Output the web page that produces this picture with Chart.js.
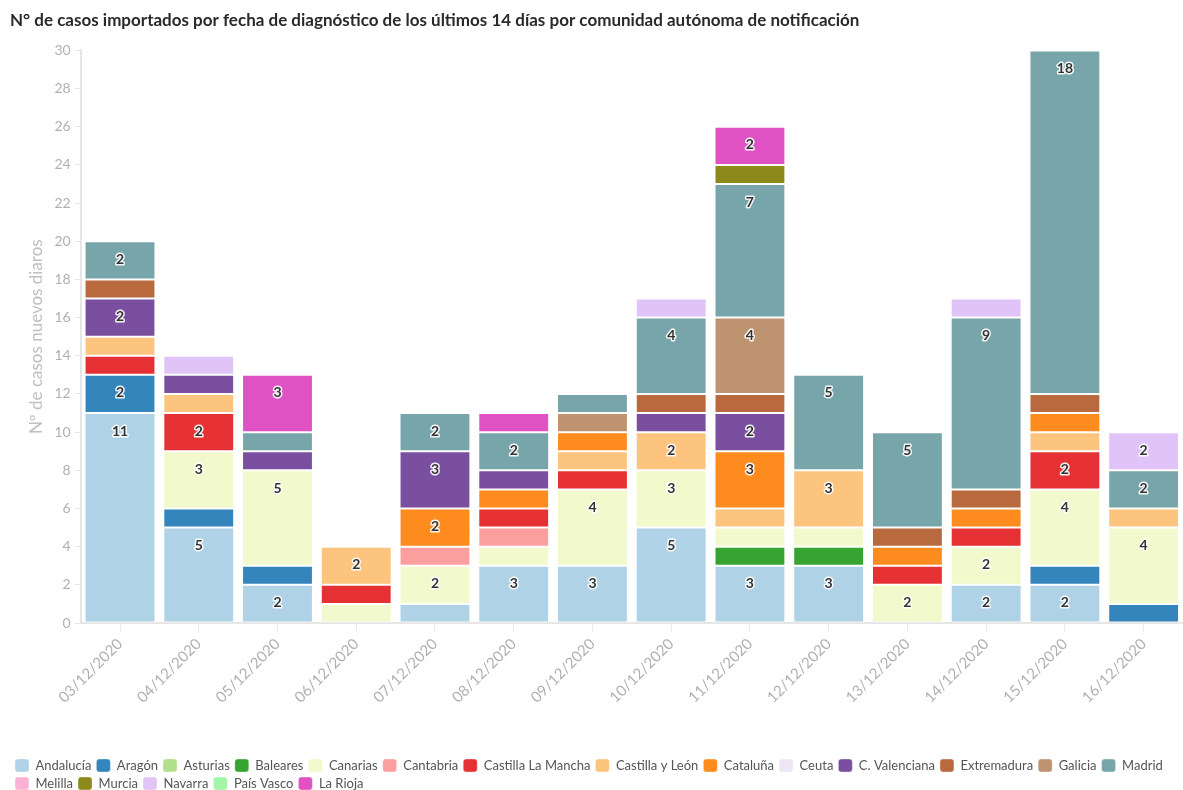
<!DOCTYPE html>
<html lang="es">
<head>
<meta charset="utf-8">
<title>Casos importados por comunidad autónoma</title>
<script src="https://cdn.jsdelivr.net/npm/chart.js@4.4.1/dist/chart.umd.min.js"></script>
<style>
  html, body { margin: 0; padding: 0; background: #fff; }
  #wrap { width: 1183px; height: 790px; position: relative; }
</style>
</head>
<body>
<div id="wrap"><canvas id="chart"></canvas></div>
<script>
"use strict";

// ── Data ───────────────────────────────────────────────────────────────────
const FECHAS = [
  "03/12/2020", "04/12/2020", "05/12/2020", "06/12/2020", "07/12/2020",
  "08/12/2020", "09/12/2020", "10/12/2020", "11/12/2020", "12/12/2020",
  "13/12/2020", "14/12/2020", "15/12/2020", "16/12/2020",
];

const COMUNIDADES = [
  "Andalucía", "Aragón", "Asturias", "Baleares", "Canarias", "Cantabria",
  "Castilla La Mancha", "Castilla y León", "Cataluña", "Ceuta",
  "C. Valenciana", "Extremadura", "Galicia", "Madrid", "Melilla", "Murcia",
  "Navarra", "País Vasco", "La Rioja",
];

const COLORES = [
  "#afd2e6", "#3585bd", "#b2df8a", "#37a330", "#f2f9cc", "#fa9f9e",
  "#e53134", "#fcc47e", "#fd8b1e", "#efe6f5",
  "#7a4fa0", "#b8693d", "#bd9370", "#78a5aa", "#fbb1d6", "#8b8a1a",
  "#e0c4f8", "#a3f5a8", "#e052c3",
];

// one row per comunidad, one value per fecha
const andalucia    = [11, 5, 2, 0, 1, 3, 3, 5, 3, 3, 0, 2, 2, 0];
const aragon       = [ 2, 1, 1, 0, 0, 0, 0, 0, 0, 0, 0, 0, 1, 1];
const asturias     = [ 0, 0, 0, 0, 0, 0, 0, 0, 0, 0, 0, 0, 0, 0];
const baleares     = [ 0, 0, 0, 0, 0, 0, 0, 0, 1, 1, 0, 0, 0, 0];
const canarias     = [ 0, 3, 5, 1, 2, 1, 4, 3, 1, 1, 2, 2, 4, 4];
const cantabria    = [ 0, 0, 0, 0, 1, 1, 0, 0, 0, 0, 0, 0, 0, 0];
const castillaLM   = [ 1, 2, 0, 1, 0, 1, 1, 0, 0, 0, 1, 1, 2, 0];
const castillaYL   = [ 1, 1, 0, 2, 0, 0, 1, 2, 1, 3, 0, 0, 1, 1];
const cataluna     = [ 0, 0, 0, 0, 2, 1, 1, 0, 3, 0, 1, 1, 1, 0];
const ceuta        = [ 0, 0, 0, 0, 0, 0, 0, 0, 0, 0, 0, 0, 0, 0];
const cValenciana  = [ 2, 1, 1, 0, 3, 1, 0, 1, 2, 0, 0, 0, 0, 0];
const extremadura  = [ 1, 0, 0, 0, 0, 0, 0, 1, 1, 0, 1, 1, 1, 0];
const galicia      = [ 0, 0, 0, 0, 0, 0, 1, 0, 4, 0, 0, 0, 0, 0];
const madrid       = [ 2, 0, 1, 0, 2, 2, 1, 4, 7, 5, 5, 9, 18, 2];
const melilla      = [ 0, 0, 0, 0, 0, 0, 0, 0, 0, 0, 0, 0, 0, 0];
const murcia       = [ 0, 0, 0, 0, 0, 0, 0, 0, 1, 0, 0, 0, 0, 0];
const navarra      = [ 0, 1, 0, 0, 0, 0, 0, 1, 0, 0, 0, 1, 0, 2];
const paisVasco    = [ 0, 0, 0, 0, 0, 0, 0, 0, 0, 0, 0, 0, 0, 0];
const laRioja      = [ 0, 0, 3, 0, 0, 1, 0, 0, 2, 0, 0, 0, 0, 0];

const SERIES = [
  andalucia, aragon, asturias, baleares, canarias, cantabria,
  castillaLM, castillaYL, cataluna, ceuta,
  cValenciana, extremadura, galicia, madrid, melilla, murcia,
  navarra, paisVasco, laRioja,
];

const Y_TICKS = [0, 2, 4, 6, 8, 10, 12, 14, 16, 18, 20, 22, 24, 26, 28, 30];

// ── Plugins ────────────────────────────────────────────────────────────────
// value labels near the top of each segment (only for 2 or more)
const segmentLabels = {
  id: "segmentLabels",
  afterDatasetsDraw(chart) {
    const ctx = chart.ctx;
    ctx.save();
    ctx.font = "bold 14px Lato, 'Open Sans', sans-serif";
    ctx.textAlign = "center";
    ctx.textBaseline = "middle";
    ctx.lineJoin = "round";
    chart.data.datasets.forEach((ds, i) => {
      const meta = chart.getDatasetMeta(i);
      meta.data.forEach((bar, j) => {
        const v = ds.data[j];
        if (!v || v < 2) return;
        const y = bar.y + 18;
        ctx.lineWidth = 3;
        ctx.strokeStyle = "rgba(255,255,255,0.9)";
        ctx.strokeText(String(v), bar.x, y);
        ctx.fillStyle = "#333";
        ctx.fillText(String(v), bar.x, y);
      });
    });
    ctx.restore();
  },
};

// ── Chart ──────────────────────────────────────────────────────────────────
const ctx = document.getElementById("chart").getContext("2d");

new Chart(ctx, {
  type: "bar",
  data: {
    labels: FECHAS,
    datasets: COMUNIDADES.map((name, i) => ({
      label: name,
      data: SERIES[i],
      backgroundColor: COLORES[i],
      borderColor: "rgba(255,255,255,0.35)",
      borderWidth: 1,
      borderSkipped: false,
      barPercentage: 0.9,
      categoryPercentage: 1,
    })),
  },
  options: {
    responsive: true,
    maintainAspectRatio: false,
    animation: false,
    layout: { padding: { left: 10, right: 0, top: 0, bottom: -10 } },
    scales: {
      x: {
        stacked: true,
        grid: { display: true, drawOnChartArea: false, offset: false, color: "#e6e6e6", tickLength: 8 },
        border: { color: "#e6e6e6", width: 2 },
        ticks: {
          minRotation: 45,
          maxRotation: 45,
          color: "#b0b0b0",
          font: { family: "Lato, 'Open Sans', sans-serif", size: 15 },
          padding: 4,
        },
        afterFit(scale) { scale.height = 131; },
      },
      y: {
        stacked: true,
        min: 0,
        max: 30,
        afterBuildTicks(scale) { scale.ticks = Y_TICKS.map((v) => ({ value: v })); },
        grid: { display: true, drawOnChartArea: false, color: "#e6e6e6", tickLength: 6 },
        border: { color: "#e6e6e6", width: 2 },
        ticks: {
          color: "#b0b0b0",
          font: { family: "Lato, 'Open Sans', sans-serif", size: 14 },
          padding: 4,
        },
        title: {
          display: true,
          text: "Nº de casos nuevos diaros",
          color: "#c0c0c0",
          font: { family: "Lato, 'Open Sans', sans-serif", size: 17 },
          padding: { top: 16, bottom: 4 },
        },
      },
    },
    plugins: {
      title: {
        display: true,
        text: "N° de casos importados por fecha de diagnóstico de los últimos 14 días por comunidad autónoma de notificación",
        align: "start",
        color: "#2a2a2a",
        font: { family: "Lato, 'Open Sans', sans-serif", size: 17, weight: "bold" },
        padding: { top: 10, bottom: 20 },
      },
      legend: {
        position: "bottom",
        align: "start",
        labels: {
          boxWidth: 14,
          boxHeight: 13,
          useBorderRadius: true,
          borderRadius: 3,
          padding: 5,
          color: "#555",
          font: { family: "Lato, 'Open Sans', sans-serif", size: 13 },
        },
      },
      tooltip: { enabled: false },
    },
  },
  plugins: [segmentLabels],
});
</script>
</body>
</html>
